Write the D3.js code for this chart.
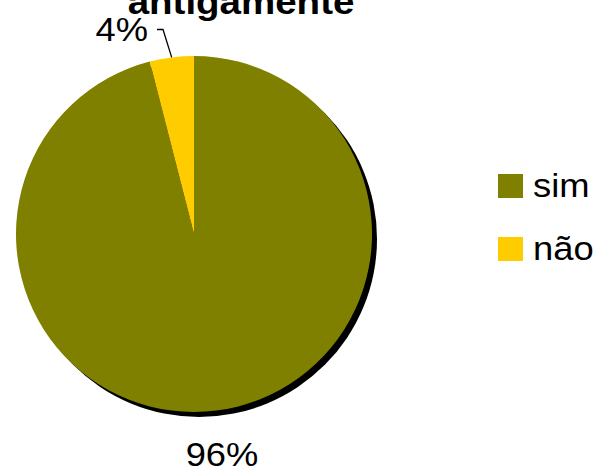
<!DOCTYPE html>
<html>
<head>
<meta charset="utf-8">
<script src="https://cdn.jsdelivr.net/npm/d3@7"></script>
<style>
  html, body { margin: 0; padding: 0; background: #fff; }
  svg { display: block; font-family: "Liberation Sans", Arial, sans-serif; }
</style>
</head>
<body>
<svg id="chart" width="597" height="473"></svg>
<script>
const title = "antigamente";
const categories = ["sim", "não"];
const values = [96, 4];
const colors = ["#808000", "#FFCC00"];
const labels = ["96%", "4%"];

const svg = d3.select("#chart");
const cx = 194, cy = 234, r = 178;

const pie = d3.pie().sort(null).value(d => d)(values);
const arc = d3.arc().innerRadius(0).outerRadius(r);

// title (partially clipped at top)
svg.append("text")
  .attr("transform", "translate(241,14) scale(1.1,1)")
  .attr("text-anchor", "middle")
  .attr("font-weight", "bold")
  .attr("font-size", 35)
  .text(title);

const g = svg.append("g").attr("transform", `translate(${cx},${cy})`);

// shadow
g.append("circle").attr("cx", 5).attr("cy", 5).attr("r", r).attr("fill", "#000");

g.selectAll("path.slice").data(pie).enter().append("path")
  .attr("class", "slice")
  .attr("d", arc)
  .attr("fill", (d, i) => colors[i]);

// labels
const mid = d => (d.startAngle + d.endAngle) / 2;
// 96% label
{
  const d = pie[0];
  const a = mid(d), R = 223;
  svg.append("text")
    .attr("transform", `translate(${cx + Math.sin(a) * R},${cy - Math.cos(a) * R + 11}) scale(1.1,1)`)
    .attr("text-anchor", "middle")
    .attr("font-size", 33)
    .text(labels[0]);
}
// 4% label with leader line
{
  const d = pie[1];
  const a = mid(d);
  const ex = cx + Math.sin(a) * r, ey = cy - Math.cos(a) * r;
  svg.append("path")
    .attr("d", `M157,29.5H163L${ex},${ey}`)
    .attr("fill", "none").attr("stroke", "#000").attr("stroke-width", 1.3);
  svg.append("text")
    .attr("transform", `translate(148,41) scale(1.1,1)`)
    .attr("text-anchor", "end")
    .attr("font-size", 33)
    .text(labels[1]);
}

// legend
const leg = svg.append("g");
categories.forEach((c, i) => {
  const y = 174 + i * 63;
  leg.append("rect").attr("x", 498).attr("y", y).attr("width", 25).attr("height", 24).attr("fill", colors[i]);
  leg.append("text")
    .attr("transform", `translate(533,${y + 23}) scale(1.07,1)`)
    .attr("font-size", 34)
    .text(c);
});
</script>
</body>
</html>
